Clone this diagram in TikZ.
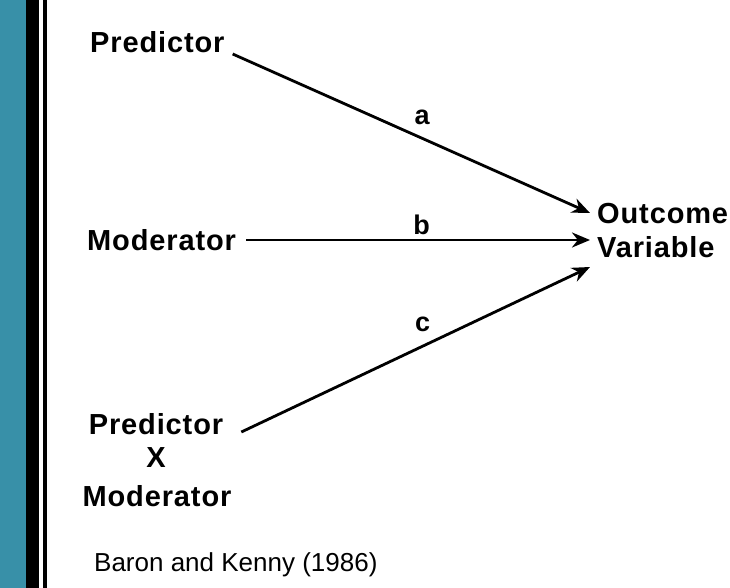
\documentclass[tikz,border=0pt]{standalone}
\usepackage{fontspec}
\setmainfont{Liberation Sans}
\newfontfamily\diagfont[LetterSpace=3]{Liberation Sans}
\usetikzlibrary{arrows.meta}
\definecolor{stripteal}{RGB}{56,144,168}
\tikzset{
  varlabel/.style={inner sep=0pt,font=\fontsize{29}{34}\diagfont\bfseries},
  pathlabel/.style={inner sep=0pt,font=\fontsize{27}{32}\diagfont\bfseries},
  effect/.style={line width=2.8pt,-{Stealth[length=18pt,width=15pt]}}
}
\begin{document}
\begin{tikzpicture}[x=1pt,y=-1pt]
      \useasboundingbox (0,0) rectangle (730,588);
      % side strip and frame
      \fill[stripteal] (0,0) rectangle (26,588);
      \fill[black] (26,0) rectangle (39,588);
      \fill[black] (43,0) rectangle (47,588);
      % variables
      \node[varlabel,anchor=west] (pred) at (90,42) {Predictor};
      \node[varlabel,anchor=west] (mod) at (87,240) {Moderator};
      \node[varlabel] (px) at (156,424) {Predictor};
      \node[varlabel] (pxx) at (156,458) {X};
      \node[varlabel] (pxm) at (157,496) {Moderator};
      \node[varlabel,anchor=west,align=left] (out) at (597,231) {Outcome\\Variable};
      \coordinate (ta) at (590,213);
      \coordinate (tb) at (590,240);
      \coordinate (tc) at (590,267);
      % paths
      \draw[effect] (pred.east) ++(8,12) -- (ta) node[pos=.53,above=12pt,pathlabel] (la) {a};
      \draw[effect] (mod.east) ++(10,0) -- (tb) node[pos=.51,above=4pt,pathlabel] (lb) {b};
      \draw[effect] (px.east) ++(18,8) -- (tc) node[pos=.52,above=13pt,pathlabel] (lc) {c};
      \node[anchor=west,inner sep=0pt,font=\fontsize{26}{30}\selectfont] (cite) at (94,565) {Baron and Kenny (1986)};
\end{tikzpicture}
\end{document}
